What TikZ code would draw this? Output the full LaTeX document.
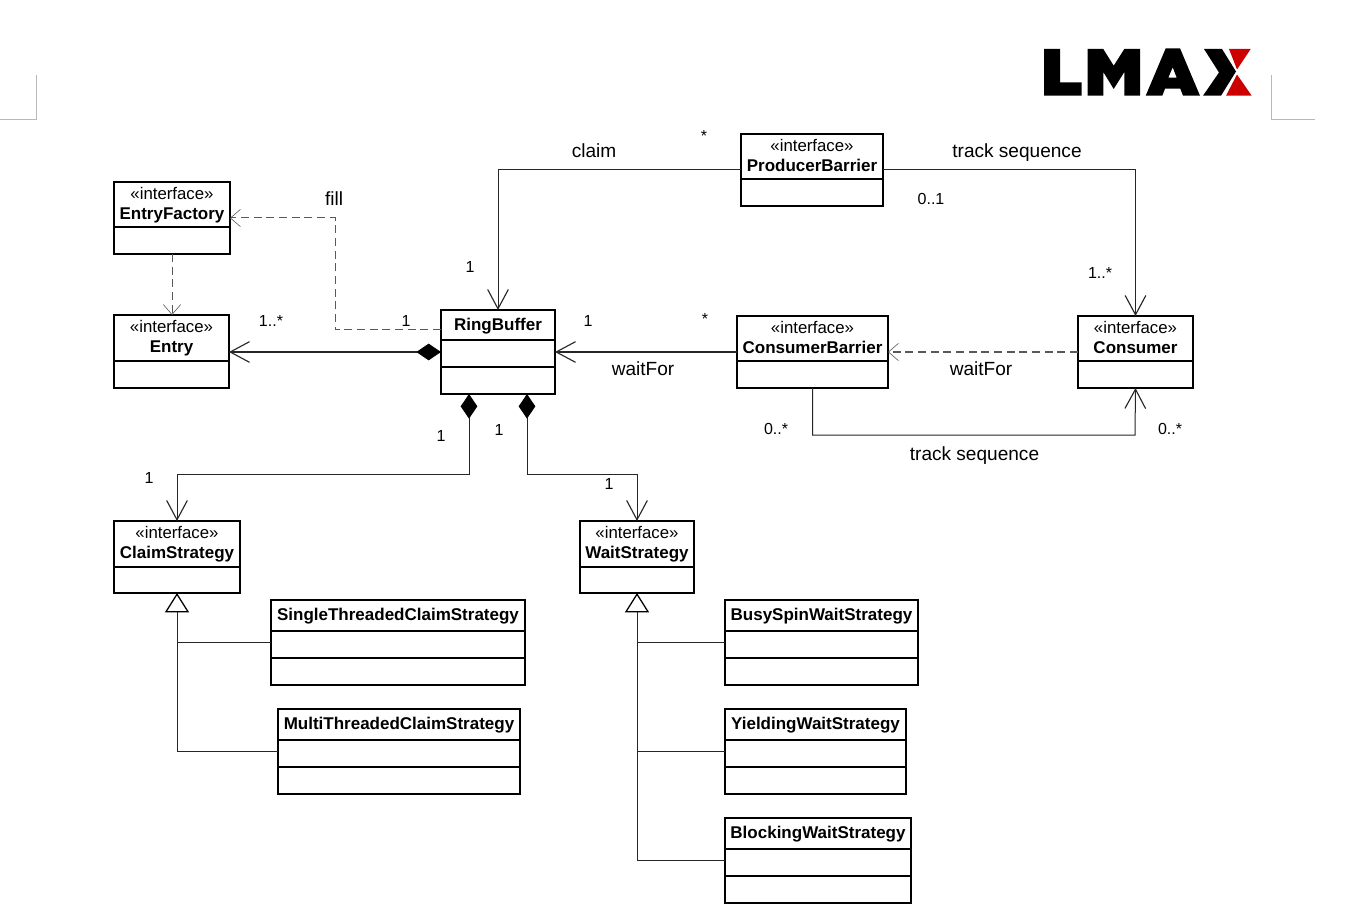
\documentclass[tikz,border=0pt]{standalone}
\usepackage{fontspec}
\setmainfont{Liberation Sans}
\usetikzlibrary{arrows.meta,calc}
\definecolor{crop}{gray}{0.72}
\definecolor{lmaxred}{RGB}{204,0,0}
\definecolor{dashgray}{gray}{0.35}
\tikzset{
  x=0.75pt,y=-0.75pt,
  classbox/.style={draw,line width=0.95pt,inner sep=0pt,outer sep=0pt},
  divider/.style={line width=0.95pt},
  stereo/.style={anchor=base,font=\fontsize{12.6pt}{14pt}\selectfont,inner sep=0pt},
  title/.style={anchor=base,font=\fontsize{12.75pt}{14pt}\selectfont\bfseries,inner sep=0pt},
  lbl/.style={anchor=base,font=\fontsize{14.3pt}{16pt}\selectfont,inner sep=0pt},
  mult/.style={anchor=base,font=\fontsize{12pt}{14pt}\selectfont,inner sep=0pt},
  conn/.style={line width=0.75pt,color=black!85},
  assoc/.style={conn,-{Straight Barb[length=14.5pt,width=15.5pt,line width=0.85pt]}},
  depend/.style={line width=0.75pt,color=dashgray,dash pattern=on 6pt off 3.5pt,-{Straight Barb[length=7.5pt,width=13pt,line width=0.45pt,color=dashgray]}},
  comp/.style={conn,{Diamond[length=18.5pt,width=12.5pt,fill=black,color=black]}-{Straight Barb[length=14.5pt,width=15.5pt,line width=0.85pt]}},
  realize/.style={conn,-{Triangle[open,fill=white,length=14.5pt,width=18pt,line width=0.95pt,color=black]}},
  cropmark/.style={line width=0.7pt,color=crop},
}
% name, x1, y1, x2, y2, list of divider y
\newcommand{\umlbox}[6]{%
  \pgfmathsetmacro{\bw}{(#4-#2)*0.75}\pgfmathsetmacro{\bh}{(#5-#3)*0.75}%
  \node[classbox,minimum width=\bw pt,minimum height=\bh pt] (#1) at ({(#2+#4)/2},{(#3+#5)/2}) {};%
  \foreach \d in {#6} {\draw[divider] (#1.west |- 0,\d) -- (#1.east |- 0,\d);}%
}
\newcommand{\ifacebox}[7]{%
  \umlbox{#1}{#2}{#3}{#4}{#5}{#6}%
  \node[stereo] (#1S) at ({(#2+#4)/2},{#3+17.5}) {«interface»};%
  \node[title] (#1T) at ({(#2+#4)/2},{#3+37.5}) {#7};%
}
\newcommand{\plainbox}[7]{%
  \umlbox{#1}{#2}{#3}{#4}{#5}{#6}%
  \node[title] (#1T) at ({(#2+#4)/2},{#3+20}) {#7};%
}
\begin{document}
\begin{tikzpicture}
\useasboundingbox (0,0) rectangle (1346,909);
% crop marks
\draw[cropmark] (36,75) -- (36,119) -- (0,119);
\draw[cropmark] (1271,75) -- (1271,119) -- (1315,119);
% logo
\fill[black] (1044,49) -- (1060,49) -- (1060,82.3) -- (1081.7,82.3) -- (1081.7,95.7) -- (1044,95.7) -- cycle;
\fill[black] (1087.7,49) -- (1103.3,49) -- (1113.7,65.7) -- (1124.3,49) -- (1140,49) -- (1140,95.7) -- (1124.3,95.7) -- (1124.3,72) -- (1113.7,89) -- (1103.3,72) -- (1103.3,95.7) -- (1087.7,95.7) -- cycle;
\fill[black,even odd rule] (1145.7,95.7) -- (1165.7,48.3) -- (1180,48.3) -- (1200,95.7) -- (1183,95.7) -- (1180.3,88.7) -- (1165,88.7) -- (1162.3,95.7) -- cycle (1168.3,77.7) -- (1176.7,77.7) -- (1172.7,67.3) -- cycle;
\fill[black] (1204,49) -- (1222,49) -- (1236,71.5) -- (1221,95.7) -- (1203,95.7) -- (1219,72.5) -- cycle;
\fill[lmaxred] (1229,49) -- (1250.7,49) -- (1237,69.5) -- cycle;
\fill[lmaxred] (1237,74.5) -- (1251.7,95.7) -- (1226,95.7) -- cycle;
% classes
\ifacebox{ef}{114}{182}{230}{254}{227}{EntryFactory}
\ifacebox{en}{114}{315}{229}{388}{361}{Entry}
\plainbox{rb}{441}{310}{555}{394}{340,367}{RingBuffer}
\ifacebox{pb}{741}{134}{883}{206}{179}{ProducerBarrier}
\ifacebox{cb}{737}{316}{888}{388}{361}{ConsumerBarrier}
\ifacebox{co}{1078}{316}{1193}{388}{361}{Consumer}
\ifacebox{cs}{114}{521}{240}{593}{567}{ClaimStrategy}
\ifacebox{ws}{580}{521}{694}{593}{567}{WaitStrategy}
\plainbox{st}{271}{600}{525}{685}{631,658}{SingleThreadedClaimStrategy}
\plainbox{mt}{278}{709}{520}{794}{740,767}{MultiThreadedClaimStrategy}
\plainbox{bs}{725}{600}{918}{685}{631,658}{BusySpinWaitStrategy}
\plainbox{yw}{725}{709}{906}{794}{740,767}{YieldingWaitStrategy}
\plainbox{bw}{725}{818}{911}{903}{849,876}{BlockingWaitStrategy}
% connectors
\draw[assoc] (pb.west |- 0,170) -| (rb.north);
\draw[assoc] (pb.east |- 0,170) -| (co.north);
\draw[assoc] (cb.west) -- (rb.east);
\draw[depend] (co.west) -- (cb.east);
\draw[assoc] (cb.south) |- (1135,435) -- (co.south);
\draw[comp] (rb.west) -- (en.east |- rb.west);
\draw[depend] (rb.west |- 0,330) -| (335,218) -- (ef.east |- 0,218);
\draw[depend] (ef.south -| 172,0) -- (en.north -| 172,0);
\draw[comp] (rb.south -| 469,0) |- (177,474) -- (cs.north -| 177,0);
\draw[comp] (rb.south -| 527,0) |- (637,474) -- (ws.north -| 637,0);
\draw[realize] (st.west |- 0,642) -| (cs.south -| 177,0);
\draw[conn] (mt.west |- 0,751) -| (177,642);
\draw[realize] (bs.west |- 0,642) -| (ws.south -| 637,0);
\draw[conn] (yw.west |- 0,751) -- (637,751);
\draw[conn] (bw.west |- 0,860) -| (637,642);
% labels
\node[lbl] (l1) at (594,158) {claim};
\node[lbl] (l2) at (1017,158) {track sequence};
\node[lbl] (l3) at (334,206) {fill};
\node[lbl] (l4) at (643,375) {waitFor};
\node[lbl] (l5) at (981,375) {waitFor};
\node[lbl] (l6) at (974.5,460) {track sequence};
% multiplicities
\node[mult] (m1) at (704,142) {*};
\node[mult] (m2) at (931,204.5) {0..1};
\node[mult] (m3) at (470,273) {1};
\node[mult] (m4) at (1100,278.5) {1..*};
\node[mult] (m5) at (588,327) {1};
\node[mult] (m6) at (705,325) {*};
\node[mult] (m7) at (406,327) {1};
\node[mult] (m8) at (271,326.5) {1..*};
\node[mult] (m9) at (776,434.5) {0..*};
\node[mult] (m10) at (1170,434.5) {0..*};
\node[mult] (m11) at (441,441) {1};
\node[mult] (m12) at (499,435) {1};
\node[mult] (m13) at (149,483) {1};
\node[mult] (m14) at (609,489) {1};
\end{tikzpicture}
\end{document}
